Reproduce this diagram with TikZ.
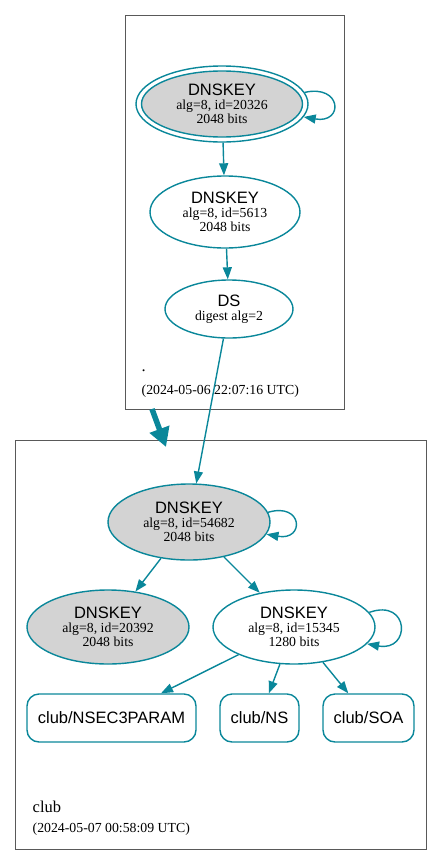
\documentclass[tikz,border=0pt]{standalone}
\usepackage{fontspec}
\setmainfont{Liberation Serif}
\newfontfamily\hv{Liberation Sans}
\usetikzlibrary{shapes.geometric,arrows.meta}
\definecolor{dnsteal}{HTML}{0A879A}
\definecolor{keygray}{HTML}{D3D3D3}
\newcommand\keyttl[1]{{\hv\fontsize{16.5}{17}\selectfont #1}\\}
\begin{document}
\begin{tikzpicture}[x=1pt,y=-1pt,
  key/.style={ellipse, draw=dnsteal, line width=1.4pt, inner sep=0pt, align=center,
    font=\fontsize{13.8}{14}\selectfont},
  rrbox/.style={rectangle, rounded corners=12pt, draw=dnsteal, line width=1.4pt, inner sep=0pt,
    minimum height=48, font=\hv\fontsize{16.5}{18}\selectfont},
  cluster/.style={draw=black!65, line width=0.9pt, inner sep=0pt, anchor=north west},
  clabel/.style={inner sep=0pt, anchor=base west, font=\fontsize{13.8}{15}\selectfont},
  e/.style={draw=dnsteal, line width=1.4pt, -{Triangle[length=12pt,width=9pt]}},
]
\useasboundingbox (0,0) rectangle (441,865);
% clusters
\node[cluster, minimum width=219, minimum height=394] (c1) at (125,15) {};
\node[cluster, minimum width=411, minimum height=409] (c2) at (15,440) {};
% top zone
\node[key, minimum width=172, minimum height=76] (k1) at (222,104) {};
\node[key, fill=keygray, minimum width=161, minimum height=66] (k1in) at (222,104)
  {\keyttl{DNSKEY}alg=8, id=20326\\2048 bits};
\node[key, minimum width=150, minimum height=72] (k2) at (225,212)
  {\keyttl{DNSKEY}alg=8, id=5613\\2048 bits};
\node[key, minimum width=128, minimum height=58] (ds) at (229,309)
  {\keyttl{DS}digest alg=2};
\node[clabel, font=\fontsize{16.5}{18}\selectfont] (l1a) at (141.5,371) {.};
\node[clabel] (l1b) at (141.5,394) {(2024-05-06 22:07:16 UTC)};
% bottom zone
\node[key, fill=keygray, minimum width=162, minimum height=76] (k3) at (189,522)
  {\keyttl{DNSKEY}alg=8, id=54682\\2048 bits};
\node[key, fill=keygray, minimum width=162, minimum height=74] (k4) at (108,627)
  {\keyttl{DNSKEY}alg=8, id=20392\\2048 bits};
\node[key, minimum width=162, minimum height=74] (k5) at (294,627)
  {\keyttl{DNSKEY}alg=8, id=15345\\1280 bits};
\node[rrbox, minimum width=169] (nsec) at (111.5,718) {club/NSEC3PARAM};
\node[rrbox, minimum width=79] (ns) at (259.5,718) {club/NS};
\node[rrbox, minimum width=91] (soa) at (368.5,718) {club/SOA};
\node[clabel, font=\fontsize{16.5}{18}\selectfont] (l2a) at (32.5,812) {club};
\node[clabel] (l2b) at (32.5,832) {(2024-05-07 00:58:09 UTC)};
% edges
\draw[e] (k1.8) .. controls (342,84) and (344,124) .. (k1.-9);
\draw[e] (k1) -- (k2);
\draw[e] (k2) -- (ds);
\draw[e] (ds) -- (k3);
\draw[e] (k3.7) .. controls (303,502) and (305,541) .. (k3.-9);
\draw[e] (k3) -- (k4);
\draw[e] (k3) -- (k5);
\draw[e] (k5.11) .. controls (410,598) and (411,652) .. (k5.-13);
\draw[e] (k5) -- (nsec);
\draw[e] (k5) -- (ns);
\draw[e] (k5) -- (soa);
% cluster-to-cluster
\coordinate (ta) at (152,409);
\coordinate (tb) at (166,447);
\draw[dnsteal, line width=5.5pt, -{Triangle[length=19pt,width=20pt]}] (ta) -- (tb);
\end{tikzpicture}
\end{document}
